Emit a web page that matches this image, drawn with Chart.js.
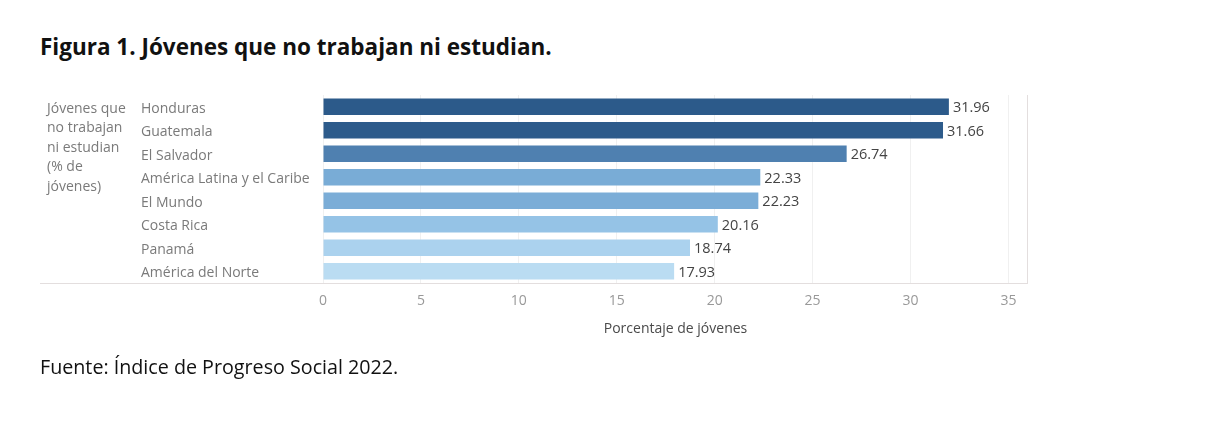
<!DOCTYPE html>
<html>
<head>
<meta charset="utf-8">
<script src="https://cdn.jsdelivr.net/npm/chart.js@4"></script>
<style>
  html, body { margin: 0; padding: 0; background: #fff; }
  #wrap { position: relative; width: 1228px; height: 424px; overflow: hidden; }
  #chart { position: absolute; left: 0; top: 0; }
  #title { position: absolute; left: 40px; top: 32px; font: bold 22.5px/30px "Open Sans", sans-serif; color: #111; white-space: nowrap; }
  #source { position: absolute; left: 40px; top: 354px; font: 19.7px/26px "Open Sans", sans-serif; color: #111; white-space: nowrap; }
</style>
</head>
<body>
<div id="wrap">
  <div id="title">Figura 1. Jóvenes que no trabajan ni estudian.</div>
  <canvas id="chart" width="1228" height="424"></canvas>
  <div id="source">Fuente: Índice de Progreso Social 2022.</div>
</div>
<script>
// data
const countries = ['Honduras', 'Guatemala', 'El Salvador', 'América Latina y el Caribe',
    'El Mundo', 'Costa Rica', 'Panamá', 'América del Norte'];
const youthShare = [31.96, 31.66, 26.74, 22.33, 22.23, 20.16, 18.74, 17.93];
const xTicks = [0, 5, 10, 15, 20, 25, 30, 35];
const rowHeader = ['Jóvenes que', 'no trabajan', 'ni estudian', '(% de', 'jóvenes)'];

// blue ramp, darker for higher values
const barColors = ['#2c5a8a', '#2d5b8b', '#4f80b0', '#79acd6', '#7badd7', '#95c3e6', '#abd2ee', '#badcf2'];

const labelFont = { family: 'Open Sans', size: 14 };

// extra drawing: the row header, the value labels, the long bottom rule and right edge
const extras = {
    id: 'extras',
    afterDatasetsDraw(chart) {
        const ctx = chart.ctx;
        const area = chart.chartArea;
        ctx.save();

        ctx.strokeStyle = '#e3dede';
        ctx.lineWidth = 1;
        ctx.beginPath();
        ctx.moveTo(40, area.bottom + 0.5);
        ctx.lineTo(area.right, area.bottom + 0.5);
        ctx.moveTo(area.right - 0.5, area.top);
        ctx.lineTo(area.right - 0.5, area.bottom);
        ctx.stroke();

        ctx.font = '14px "Open Sans"';
        ctx.fillStyle = '#7a7a7a';
        ctx.textBaseline = 'middle';
        ctx.textAlign = 'left';
        rowHeader.forEach((line, i) => {
            ctx.fillText(line, 47, 109 + i * 19.5);
        });

        ctx.fillStyle = '#444';
        ctx.font = '14.5px "Open Sans"';
        chart.getDatasetMeta(0).data.forEach((bar, i) => {
            ctx.fillText(youthShare[i].toFixed(2), bar.x + 4, bar.y + 1.5);
        });
        ctx.restore();
    }
};

new Chart(document.getElementById('chart'), {
    type: 'bar',
    data: {
        labels: countries,
        datasets: [{
            data: youthShare,
            backgroundColor: barColors,
            barPercentage: 0.71,
            categoryPercentage: 1
        }]
    },
    options: {
        indexAxis: 'y',
        responsive: false,
        animation: false,
        layout: { padding: { left: 141, top: 95, right: 200, bottom: 81 } },
        plugins: {
            legend: { display: false },
            tooltip: { enabled: false }
        },
        scales: {
            x: {
                min: 0,
                max: 36,
                afterBuildTicks: (scale) => {
                    scale.ticks = xTicks.map(v => ({ value: v }));
                },
                afterFit: (scale) => { scale.height = 60; },
                grid: { color: '#f0f0f0', drawTicks: false },
                border: { display: false },
                ticks: { color: '#999', font: labelFont, padding: 10 },
                title: {
                    display: true,
                    text: 'Porcentaje de jóvenes',
                    color: '#4a4a4a',
                    font: { family: 'Open Sans', size: 14, weight: 500 },
                    padding: { top: 0, bottom: 6 }
                }
            },
            y: {
                afterFit: (scale) => { scale.width = 182; },
                grid: { display: false },
                border: { display: false },
                ticks: { color: '#7a7a7a', font: labelFont, crossAlign: 'far', labelOffset: 2 }
            }
        }
    },
    plugins: [extras]
});
</script>
</body>
</html>
